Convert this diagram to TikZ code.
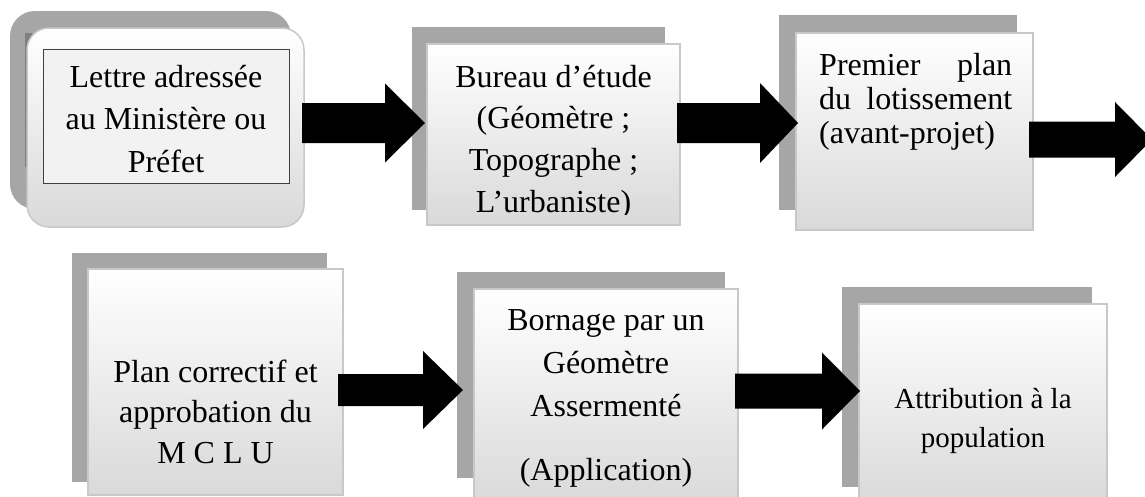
\documentclass[tikz,border=0pt]{standalone}
\usepackage{fontspec}
\setmainfont{Liberation Serif}
\definecolor{shadowgray}{RGB}{166,166,166}
\definecolor{edgegray}{RGB}{200,200,200}
\definecolor{botgray}{RGB}{217,217,217}
\definecolor{innerfill}{RGB}{242,242,242}
\definecolor{inneredge}{RGB}{64,64,64}
\definecolor{darkstrip}{RGB}{128,128,128}
\tikzset{
  shadowbox/.style={fill=shadowgray},
  frontbox/.style={top color=white, bottom color=botgray, draw=edgegray, line width=1.5pt, inner sep=0pt},
  boxtext/.style={inner sep=0pt, anchor=base},
  blockarrowstyle/.style={fill=black},
}
% #1 shaft start x, #2 head base x, #3 tip x, #4 centre y, #5 shaft half height, #6 head half height
\newcommand{\blockarrow}[6]{%
  \fill[blockarrowstyle] (#1,#4-#5) -- (#2,#4-#5) -- (#2,#4-#6) -- (#3,#4) -- (#2,#4+#6) -- (#2,#4+#5) -- (#1,#4+#5) -- cycle;}
\begin{document}
\begin{tikzpicture}[x=1pt,y=-1pt]
\useasboundingbox (0,0) rectangle (1145,496);
% ---------- Box 1
\fill[shadowgray, rounded corners=25pt] (10,11) rectangle (291,209);
\fill[darkstrip] (25,33) rectangle (33,167);
\path[frontbox, rounded corners=22pt] (27,28) rectangle (304,227);
\node[draw=inneredge, fill=innerfill, line width=1pt, minimum width=246pt, minimum height=134pt, inner sep=0pt] (b1) at (166,116) {};
\node[boxtext, font=\fontsize{32}{42.7}\selectfont] (t1) at (166,87)
  {\begin{tabular}[t]{@{}c@{}}Lettre adressée\\ au Ministère ou\\ Préfet\end{tabular}};
% ---------- Box 2
\fill[shadowbox] (412,27) rectangle (665,210);
\node[frontbox, minimum width=253pt, minimum height=181pt] (b2) at (553.5,134.5) {};
\begin{scope}
  \clip (427,44) rectangle (680,214);
  \node[boxtext, font=\fontsize{32}{41.7}\selectfont] (t2) at (553.5,87)
    {\begin{tabular}[t]{@{}c@{}}Bureau d’étude\\ (Géomètre ;\\ Topographe ;\\ L’urbaniste)\end{tabular}};
\end{scope}
% ---------- Box 3
\fill[shadowbox] (779,15) rectangle (1017,210);
\node[frontbox, minimum width=237pt, minimum height=197pt] (b3) at (914.5,131.5) {};
\node[anchor=base west, inner sep=0pt] (t3) at (819,75)
  {\parbox[t]{193pt}{\fontsize{32}{34}\selectfont Premier\hfill plan\\ du\hfill lotissement\\ (avant-projet)}};
% ---------- Box 4
\fill[shadowbox] (72,253) rectangle (327,482);
\node[frontbox, minimum width=255pt, minimum height=226pt] (b4) at (215.5,382) {};
\node[boxtext, font=\fontsize{32}{40.5}\selectfont] (t4) at (215.5,382)
  {\begin{tabular}[t]{@{}c@{}}Plan correctif et\\ approbation du\\ M C L U\end{tabular}};
% ---------- Box 5
\fill[shadowbox] (457,272) rectangle (725,478);
\node[frontbox, minimum width=264pt, minimum height=215pt] (b5) at (606,396.5) {};
\node[boxtext, font=\fontsize{32}{43}\selectfont] (t5) at (606,330)
  {\begin{tabular}[t]{@{}c@{}}Bornage par un\\ Géomètre\\ Assermenté\\[21pt] (Application)\end{tabular}};
% ---------- Box 6
\fill[shadowbox] (842,287) rectangle (1092,487);
\node[frontbox, minimum width=248pt, minimum height=200pt] (b6) at (983,404) {};
\node[boxtext, font=\fontsize{29}{39}\selectfont] (t6) at (983,408)
  {\begin{tabular}[t]{@{}c@{}}Attribution à la\\ population\end{tabular}};
% ---------- Arrows
\blockarrow{302}{385}{425}{123}{20}{39.5}
\blockarrow{677}{760}{798}{123}{20}{40}
\blockarrow{1029}{1115}{1152}{139.5}{18}{37.5}
\blockarrow{338}{423}{463}{390}{16}{39}
\blockarrow{735}{822}{860}{391}{17.5}{38.5}
\end{tikzpicture}
\end{document}
